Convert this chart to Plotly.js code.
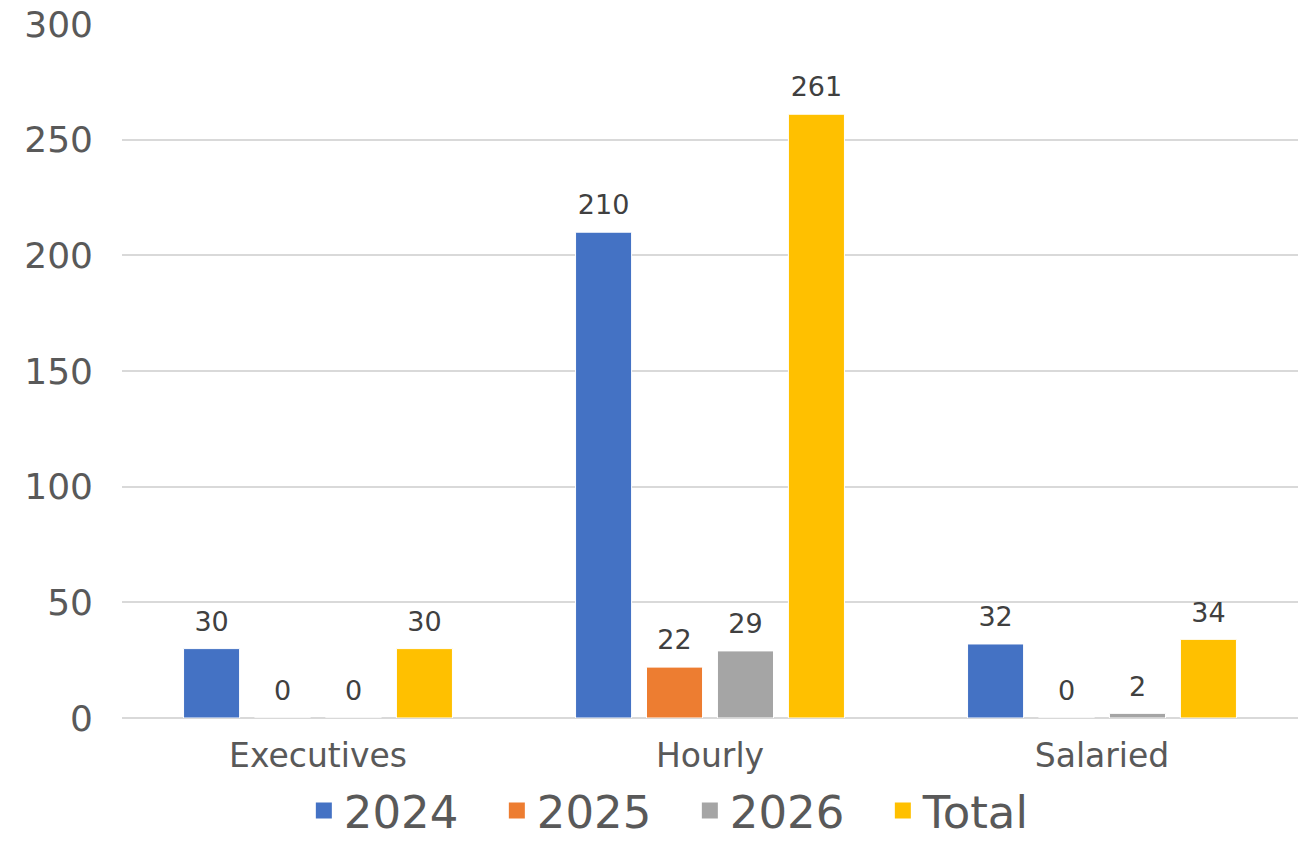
<!DOCTYPE html>
<html>
<head>
<meta charset="utf-8">
<script src="https://cdn.plot.ly/plotly-3.0.1.min.js"></script>
<style>html,body{margin:0;padding:0;background:#fff;}#chart{width:1309px;height:842px;}</style>
</head>
<body>
<div id="chart"></div>
<script>
const categories = ["Executives", "Hourly", "Salaried"];
const seriesNames = ["2024", "2025", "2026", "Total"];
const values2024 = [30, 210, 32];
const values2025 = [0, 22, 0];
const values2026 = [0, 29, 2];
const valuesTotal = [30, 261, 34];
const colors = ["#4472C4", "#ED7D31", "#A5A5A5", "#FFC000"];
const yTicks = [0, 50, 100, 150, 200, 250, 300];

const allValues = [values2024, values2025, values2026, valuesTotal];
const FONT = "DejaVu Sans, sans-serif";

const barTraces = allValues.map((vals, i) => ({
  type: "bar",
  name: seriesNames[i],
  x: categories,
  y: vals,
  showlegend: false,
  marker: {color: colors[i], line: {color: "#ffffff", width: 1}}
}));

const labelTraces = allValues.map((vals, i) => ({
  type: "scatter",
  mode: "markers+text",
  name: seriesNames[i],
  x: categories,
  y: vals,
  text: vals.map(String),
  textposition: "top center",
  cliponaxis: false,
  textfont: {family: FONT, size: 27, color: "#404040"},
  marker: {size: 16, opacity: 0, color: colors[i]},
  showlegend: false
}));

const legendTraces = allValues.map((vals, i) => ({
  type: "scatter",
  mode: "markers",
  name: seriesNames[i],
  x: [null],
  y: [null],
  xaxis: "x2",
  yaxis: "y2",
  marker: {symbol: "square", size: 22, color: colors[i]},
  showlegend: true
}));

const layout = {
  width: 1309,
  height: 842,
  margin: {l: 122, r: 11, t: 24, b: 124},
  paper_bgcolor: "#ffffff",
  plot_bgcolor: "rgba(0,0,0,0)",
  barmode: "group",
  bargap: 0.276,
  bargroupgap: 0.21,
  scattermode: "group",
  scattergap: 0.276,
  showlegend: true,
  legend: {
    orientation: "h",
    x: 0.527, xref: "container", xanchor: "center",
    y: 0.037, yref: "container", yanchor: "middle",
    font: {family: FONT, size: 45, color: "#595959"},
    itemwidth: 30,
    entrywidth: 148,
    entrywidthmode: "pixels",
    traceorder: "normal"
  },
  xaxis: {
    type: "category",
    showgrid: false,
    showline: false,
    zeroline: false,
    ticks: "",
    tickfont: {family: FONT, size: 33, color: "#595959"},
    ticklabelstandoff: 15
  },
  yaxis: {
    range: [0, 300],
    tickvals: yTicks,
    ticktext: yTicks.map(String),
    showgrid: true,
    gridcolor: "#d9d9d9",
    gridwidth: 2,
    zeroline: true,
    zerolinecolor: "#d9d9d9",
    zerolinewidth: 2,
    showline: false,
    ticks: "",
    tickfont: {family: FONT, size: 36, color: "#595959"},
    ticklabelstandoff: 28
  },
  xaxis2: {visible: false, overlaying: "x", showgrid: false, zeroline: false},
  yaxis2: {visible: false, overlaying: "y", showgrid: false, zeroline: false},
  font: {family: FONT, color: "#595959"}
};

Plotly.newPlot("chart", [...barTraces, ...labelTraces, ...legendTraces], layout, {displayModeBar: false, staticPlot: true});
</script>
</body>
</html>
